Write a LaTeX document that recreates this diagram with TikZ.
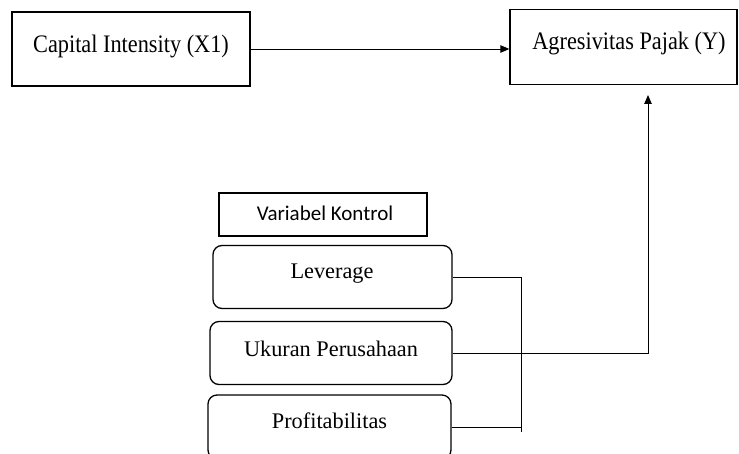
\documentclass[tikz,border=0pt]{standalone}
\usepackage{fontspec}
\setmainfont{Liberation Serif}
\newfontfamily\calibrifont{Carlito}
\usetikzlibrary{arrows.meta}
\newcommand{\talltext}[1]{\scalebox{1}[1.13]{#1}}
\begin{document}
\begin{tikzpicture}[x=1pt,y=-1pt,
  box/.style={draw, line width=1.3pt, inner sep=0pt},
  rbox/.style={box, rounded corners=9pt},
  lbl/.style={font=\fontsize{22.3}{26}\selectfont, inner sep=0pt, anchor=base},
  slbl/.style={font=\calibrifont\fontsize{21}{25}\selectfont, inner sep=0pt, anchor=base},
  conn/.style={line width=0.9pt},
  arr/.style={conn, -{Triangle[length=9pt,width=7.5pt]}}]
\path[use as bounding box] (0,0) rectangle (739,454);
\clip (0,0) rectangle (739,454);
% top boxes
\node[box, minimum width=238pt, minimum height=74pt] (b1) at (131,49) {};
\node[lbl] (t1) at (131,53) {\talltext{Capital Intensity (X1)}};
\node[box, minimum width=227pt, minimum height=75pt] (b2) at (623.5,46.7) {};
\node[lbl] (t2) at (629,49.5) {\talltext{Agresivitas Pajak (Y)}};
% control variables
\node[box, minimum width=208pt, minimum height=43pt] (vk) at (323,214.5) {};
\node[slbl] (tvk) at (325,221) {Variabel Kontrol};
\node[rbox, minimum width=239pt, minimum height=63pt] (lev) at (332.5,277) {};
\node[lbl] (tlev) at (332,279) {Leverage};
\node[rbox, minimum width=242pt, minimum height=63pt] (uk) at (331,353) {};
\node[lbl] (tuk) at (331,356) {Ukuran Perusahaan};
\node[rbox, minimum width=243pt, minimum height=64pt] (prof) at (329.5,427) {};
\node[lbl] (tprof) at (329.5,428) {Profitabilitas};
% connectors
\coordinate (jt) at (521,277);
\coordinate (jb) at (521,432);
\coordinate (tip) at (648,95);
\draw[arr] (b1.east |- 0,49) -- (b2.west |- 0,49);
\draw[conn] (lev.east) -- (lev.east -| jt) -- (jb);
\draw[conn] (prof.east) -- (prof.east -| jt);
\draw[arr] (uk.east) -| (tip);
\end{tikzpicture}
\end{document}
